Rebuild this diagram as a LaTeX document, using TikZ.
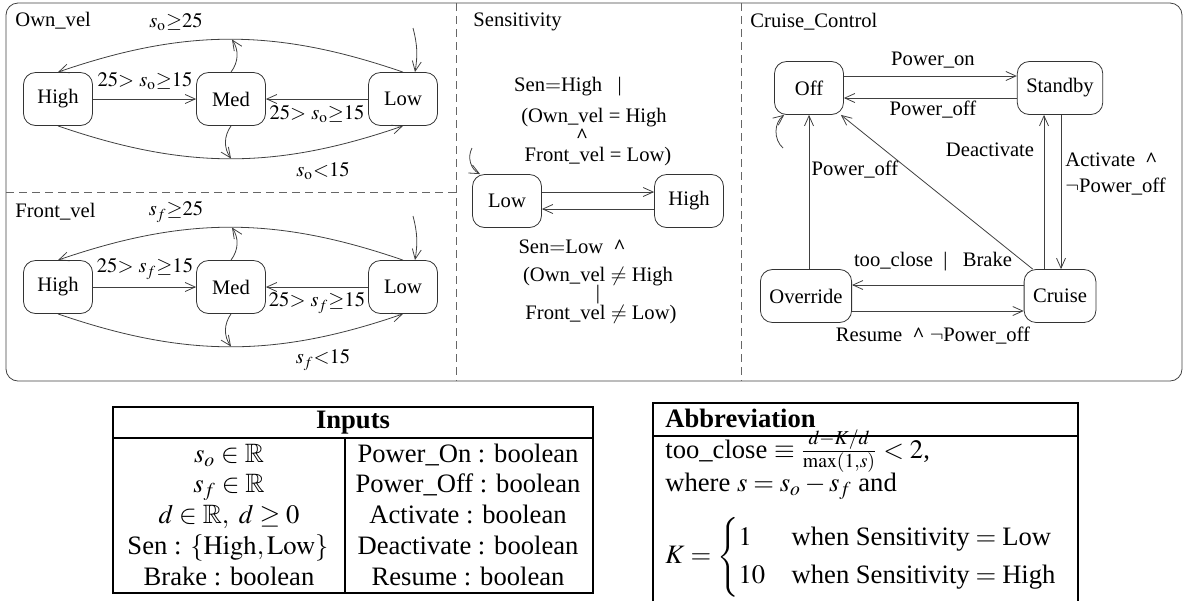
\documentclass[tikz,border=0pt]{standalone}
\usepackage{amsmath,amssymb}
\usepackage{mathptmx}
\usepackage{fontspec}
\setmainfont{Liberation Serif}
\usetikzlibrary{arrows.meta,positioning}
\pgfdeclarelayer{edgelayer}
\pgfdeclarelayer{nodelayer}
\pgfsetlayers{edgelayer,nodelayer,main}
\tikzset{font=\fontsize{10.3}{12}\selectfont}
\tikzstyle{none}=[inner sep=0pt]
\tikzstyle{state}=[rectangle,rounded corners=6pt,draw=black!80,minimum width=34.5pt,minimum height=26.5pt,inner xsep=4.5pt]
\tikzstyle{trans}=[->,>={Straight Barb[length=5pt,width=4.5pt]},draw=black!75]
\tikzstyle{region}=[dash pattern=on 4pt off 2.5pt,draw=black!60]
\tikzstyle{tabline}=[line width=1pt]
\tikzstyle{tabtext}=[inner sep=0pt,font=\fontsize{13.3}{16}\selectfont]
\newcommand{\andmark}{\textbf{\textasciicircum}}

\begin{document}
\begin{tikzpicture}[x=0.5pt,y=0.5pt]
	\useasboundingbox (0,0) rectangle (1187,-601);
	\begin{pgfonlayer}{nodelayer}
		% Own_vel
		\node [style=none, anchor=west] (OwnT) at (15,-21) {Own\_vel};
		\node [style=state] (OHigh) at (58,-99) {High};
		\node [style=state] (OMed) at (231,-99) {Med};
		\node [style=state] (OLow) at (403,-99) {Low};
		\coordinate (OTop) at (232,-39.5);
		\coordinate (OBot) at (231,-158.5);
		\coordinate (OInit) at (413,-28);
		\node [style=none] (O1) at (176,-22) {$s_{\mathrm{o}}{\geq}25$};
		\node [style=none] (O2) at (145,-81) {$25{>}\ s_{\mathrm{o}}{\geq}15$};
		\node [style=none] (O3) at (317,-114) {$25{>}\ s_{\mathrm{o}}{\geq}15$};
		\node [style=none] (O4) at (323,-171) {$s_{\mathrm{o}}{<}15$};
		% Front_vel
		\node [style=none, anchor=west] (FrontT) at (15,-212) {Front\_vel};
		\node [style=state] (FHigh) at (58,-287) {High};
		\node [style=state] (FMed) at (231,-287) {Med};
		\node [style=state] (FLow) at (403,-287) {Low};
		\coordinate (FTop) at (232,-227.5);
		\coordinate (FBot) at (231,-346.5);
		\coordinate (FInit) at (413,-216);
		\node [style=none] (F1) at (176,-212) {$s_{f}{\geq}25$};
		\node [style=none] (F2) at (145,-269) {$25{>}\ s_{f}{\geq}15$};
		\node [style=none] (F3) at (317,-303) {$25{>}\ s_{f}{\geq}15$};
		\node [style=none] (F4) at (323,-360) {$s_{f}{<}15$};
		% Sensitivity
		\node [style=none, anchor=west] (SenT) at (473,-22) {Sensitivity};
		\node [style=state] (SLow) at (507,-201) {Low};
		\node [style=state] (SHigh) at (689,-201) {High};
		\coordinate (SInit) at (472,-148);
		\node [style=none] (S1) at (568,-87) {Sen$=$High~~~|};
		\node [style=none] (S2) at (594,-118) {(Own\_vel = High};
		\node [style=none] (S3) at (582,-136) {\andmark};
		\node [style=none] (S4) at (598,-157) {Front\_vel = Low)};
		\node [style=none] (S5) at (572,-247) {Sen$=$Low~~\andmark};
		\node [style=none] (S6) at (598,-277) {(Own\_vel $\neq$ High};
		\node [style=none] (S7) at (598,-295) {|};
		\node [style=none] (S8) at (601,-315) {Front\_vel $\neq$ Low)};
		% Cruise_Control
		\node [style=none, anchor=west] (CruT) at (750,-22) {Cruise\_Control};
		\node [style=state] (Off) at (809,-88) {Off};
		\node [style=state] (Standby) at (1060,-88) {Standby};
		\node [style=state] (Override) at (806,-296) {Override};
		\node [style=state] (Cruise) at (1060,-296) {Cruise};
		\coordinate (OffLoop) at (783,-148);
		\node [style=none] (C1) at (933,-60) {Power\_on};
		\node [style=none] (C2) at (933,-110) {Power\_off};
		\node [style=none] (C3) at (855,-170) {Power\_off};
		\node [style=none] (C4) at (990,-150) {Deactivate};
		\node [style=none, anchor=west] (C5) at (1065,-160) {Activate~~\andmark};
		\node [style=none, anchor=west] (C6) at (1065,-187) {$\neg$Power\_off};
		\node [style=none] (C7) at (933,-262) {too\_close~~|~~~Brake};
		\node [style=none] (C8) at (933,-336) {Resume~~\andmark~$\neg$Power\_off};
		% Inputs
		\node [style=tabtext, anchor=base] (InT) at (353,-428) {\textbf{Inputs}};
		\node [style=tabtext, anchor=base] (In1) at (229,-462) {$s_o\in\mathbb{R}$};
		\node [style=tabtext, anchor=base] (In2) at (229,-492) {$s_f\in\mathbb{R}$};
		\node [style=tabtext, anchor=base] (In3) at (229,-523) {$d\in\mathbb{R},\ d\geq 0$};
		\node [style=tabtext, anchor=base] (In4) at (228,-554) {Sen : $\{\mathrm{High},\mathrm{Low}\}$};
		\node [style=tabtext, anchor=base] (In5) at (229,-585) {Brake : boolean};
		\node [style=tabtext, anchor=base] (In6) at (468,-462) {Power\_On : boolean};
		\node [style=tabtext, anchor=base] (In7) at (468,-492) {Power\_Off : boolean};
		\node [style=tabtext, anchor=base] (In8) at (468,-523) {Activate : boolean};
		\node [style=tabtext, anchor=base] (In9) at (468,-554) {Deactivate : boolean};
		\node [style=tabtext, anchor=base] (In10) at (468,-585) {Resume : boolean};
		% Abbreviation
		\node [style=tabtext, anchor=base west] (AbT) at (665,-427) {\textbf{Abbreviation}};
		\node [style=tabtext, anchor=base west] (Ab1) at (665,-458) {too\_close $\equiv\frac{d-K/d}{\max(1,s)}<2$,};
		\node [style=tabtext, anchor=base west] (Ab2) at (665,-491) {where $s=s_o-s_f$ and};
		\node [style=tabtext, anchor=west] (Ab3) at (665,-557) {$K=\begin{cases}1 & \text{when Sensitivity}=\text{Low}\\ 10 & \text{when Sensitivity}=\text{High}\end{cases}$};
	\end{pgfonlayer}
	\begin{pgfonlayer}{edgelayer}
		% regions
		\draw [draw=black!75, rounded corners=6pt] (6,-3) rectangle (1182,-381);
		\draw [style=region] (456,-3) to (456,-381);
		\draw [style=region] (741,-3) to (741,-381);
		\draw [style=region] (6,-192) to (456,-192);
		% Own_vel
		\draw [style=trans] (OHigh) to (OMed);
		\draw [style=trans] (OLow) to (OMed);
		\draw [style=trans, bend right=19] (OLow.north) to (OHigh.north);
		\draw [style=trans, bend right=19] (OHigh.south) to (OLow.south);
		\draw [style=trans, bend right=35] (OMed.north) to (OTop);
		\draw [style=trans, bend right=35] (OMed.south) to (OBot);
		\draw [style=trans, bend left=12] (OInit) to ([xshift=6pt]OLow.north);
		% Front_vel
		\draw [style=trans] (FHigh) to (FMed);
		\draw [style=trans] (FLow) to (FMed);
		\draw [style=trans, bend right=19] (FLow.north) to (FHigh.north);
		\draw [style=trans, bend right=19] (FHigh.south) to (FLow.south);
		\draw [style=trans, bend right=35] (FMed.north) to (FTop);
		\draw [style=trans, bend right=35] (FMed.south) to (FBot);
		\draw [style=trans, bend left=12] (FInit) to ([xshift=6pt]FLow.north);
		% Sensitivity
		\draw [style=trans] ([yshift=4.5pt]SLow.east) to ([yshift=4.5pt]SHigh.west);
		\draw [style=trans] ([yshift=-4pt]SHigh.west) to ([yshift=-4pt]SLow.east);
		\draw [style=trans, bend right=45] (SInit) to ([xshift=4pt]SLow.north west);
		% Cruise_Control
		\draw [style=trans] ([yshift=6pt]Off.east) to ([yshift=6pt]Standby.west);
		\draw [style=trans] ([yshift=-5pt]Standby.west) to ([yshift=-5pt]Off.east);
		\draw [style=trans] ([yshift=5.5pt]Cruise.west) to ([yshift=5.5pt]Override.east);
		\draw [style=trans] ([yshift=-7.5pt]Override.east) to ([yshift=-7.5pt]Cruise.west);
		\draw [style=trans] (Override.north -| Off.south) to (Off.south);
		\draw [style=trans] ([xshift=4.5pt]Cruise.north west) to ([xshift=-1.5pt]Off.south east);
		\draw [style=trans] ([xshift=0.5pt]Standby.south) to ([xshift=0.5pt]Cruise.north);
		\draw [style=trans] ([xshift=-8pt]Cruise.north) to ([xshift=-8pt]Standby.south);
		\draw [style=trans, bend left=50] (OffLoop) to ([xshift=5pt]Off.south west);
		% tables
		\draw [style=tabline] (113,-407) rectangle (593,-593);
		\draw [style=tabline] (113,-438) to (593,-438);
		\draw [style=tabline] (345,-438) to (345,-593);
		\draw [style=tabline] (653,-601) to (653,-403) to (1078,-403) to (1078,-601);
		\draw [style=tabline] (653,-436) to (1078,-436);
	\end{pgfonlayer}
\end{tikzpicture}
\end{document}
